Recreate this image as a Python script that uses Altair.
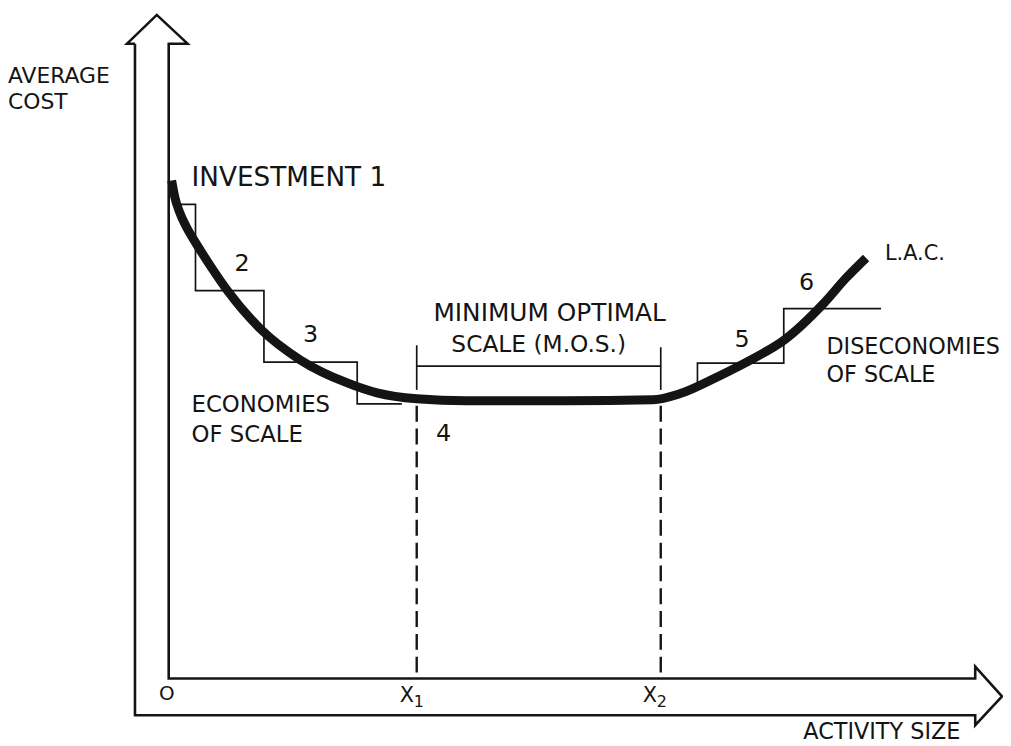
import altair as alt
import pandas as pd

# ---- chart units: origin O at (0, 0); X1 = 250, X2 = 496, minimum cost = 280 ----
# double-arrow axis frame (one closed outline)
frame_x = [-34, -42, -12, 19, 0, 0, 813, 813, 840, 813, 813, -34, -34]
frame_y = [640, 640, 669, 640, 640, 0, 0, 12, -18, -47, -37, -37, 640]

# long-run average cost curve (L.A.C.)
lac_x = [3, 6, 11, 18, 28, 42, 60, 93, 133, 180, 210, 250, 300, 400, 488, 515, 555, 590, 620, 660, 683, 703]
lac_y = [502, 486, 470, 455, 438, 416, 390, 352, 321, 298, 288, 282, 280, 280, 281, 287, 305, 323, 341, 378, 404, 424]

# investment steps (short-run cost plateaus)
left_x = [7, 27, 27, 96, 96, 190, 190, 235]
left_y = [478, 478, 391, 391, 319, 319, 277, 277]
right_x = [533, 533, 620, 620, 718]
right_y = [290, 318, 318, 373, 373]

# M.O.S. bracket segments
br_x = [250, 250, 496]
br_x2 = [496, 250, 496]
br_y = [315, 291, 291]
br_y2 = [315, 336, 334]

# dashed drop lines at X1 and X2
dash_x = [250, 496]
dash_top = [275, 275]

# labels
lab_text = ["AVERAGE", "COST", "INVESTMENT 1", "ECONOMIES", "OF SCALE", "L.A.C.",
            "DISECONOMIES", "OF SCALE",
            "2", "3", "4", "5", "6", "MINIMUM OPTIMAL", "SCALE (M.O.S.)",
            "O", "X", "1", "X", "2",
            "ACTIVITY SIZE"]
lab_x = [-162, -162, 23, 23, 23, 722, 663, 663,
         74, 143, 277, 578, 643, 384, 373,
         -2, 240, 252, 485, 497,
         798]
lab_y = [607, 581, 505, 276, 245, 428, 334, 306,
         418, 346, 246, 341, 399, 368, 336,
         -16, -18, -24, -18, -24,
         -54]
lab_size = [22, 22, 26.5, 23, 23, 21, 22.5, 22.5,
            24, 24, 24, 24, 24, 25, 23.5,
            20, 21, 16, 21, 16,
            22.5]
lab_align = ["left"] * 8 + ["center"] * 12 + ["right"]

INK = "#141414"
FONT = "DejaVu Sans"

xs = alt.Scale(domain=[-162, 841], nice=False, zero=False)
ys = alt.Scale(domain=[-65, 673], nice=False, zero=False)


def X(f="x"):
    return alt.X(f"{f}:Q", scale=xs, axis=None)


def Y(f="y"):
    return alt.Y(f"{f}:Q", scale=ys, axis=None)


frame_df = pd.DataFrame({"x": frame_x, "y": frame_y, "i": range(len(frame_x))})
lac_df = pd.DataFrame({"x": lac_x, "y": lac_y, "i": range(len(lac_x))})
steps_df = pd.concat([
    pd.DataFrame({"x": left_x, "y": left_y, "i": range(len(left_x)), "g": "left"}),
    pd.DataFrame({"x": right_x, "y": right_y, "i": range(len(right_x)), "g": "right"}),
])
br_df = pd.DataFrame({"x": br_x, "x2": br_x2, "y": br_y, "y2": br_y2})
dash_df = pd.DataFrame({"x": dash_x, "y": dash_top, "y2": [0, 0]})
lab_df = pd.DataFrame({"t": lab_text, "x": lab_x, "y": lab_y, "fs": lab_size, "a": lab_align})

frame = alt.Chart(frame_df).mark_line(color=INK, strokeWidth=2.6, strokeJoin="miter").encode(
    x=X(), y=Y(), order="i:Q")

steps = alt.Chart(steps_df).mark_line(color=INK, strokeWidth=1.7).encode(
    x=X(), y=Y(), detail="g:N", order="i:Q")

bracket = alt.Chart(br_df).mark_rule(color=INK, strokeWidth=1.7).encode(
    x=X(), x2="x2:Q", y=Y(), y2="y2:Q")

dashed = alt.Chart(dash_df).mark_rule(color=INK, strokeWidth=2.4, strokeDash=[16, 7]).encode(
    x=X(), y=Y(), y2="y2:Q")

lac = alt.Chart(lac_df).mark_line(color=INK, strokeWidth=9, interpolate="monotone", strokeCap="butt").encode(
    x=X(), y=Y(), order="i:Q")

texts = []
for a in ["left", "center", "right"]:
    texts.append(
        alt.Chart(lab_df).transform_filter(alt.datum.a == a).mark_text(
            font=FONT, align=a, baseline="middle", color=INK
        ).encode(x=X(), y=Y(), text="t:N", size=alt.Size("fs:Q", scale=None, legend=None))
    )

chart = alt.layer(frame, steps, bracket, dashed, lac, *texts).properties(
    width=1003, height=738, padding=0, autosize=alt.AutoSizeParams(type="none")
).configure(background="white").configure_view(stroke=None)

chart.save("out.html", embed_options={"renderer": "svg", "actions": False})
